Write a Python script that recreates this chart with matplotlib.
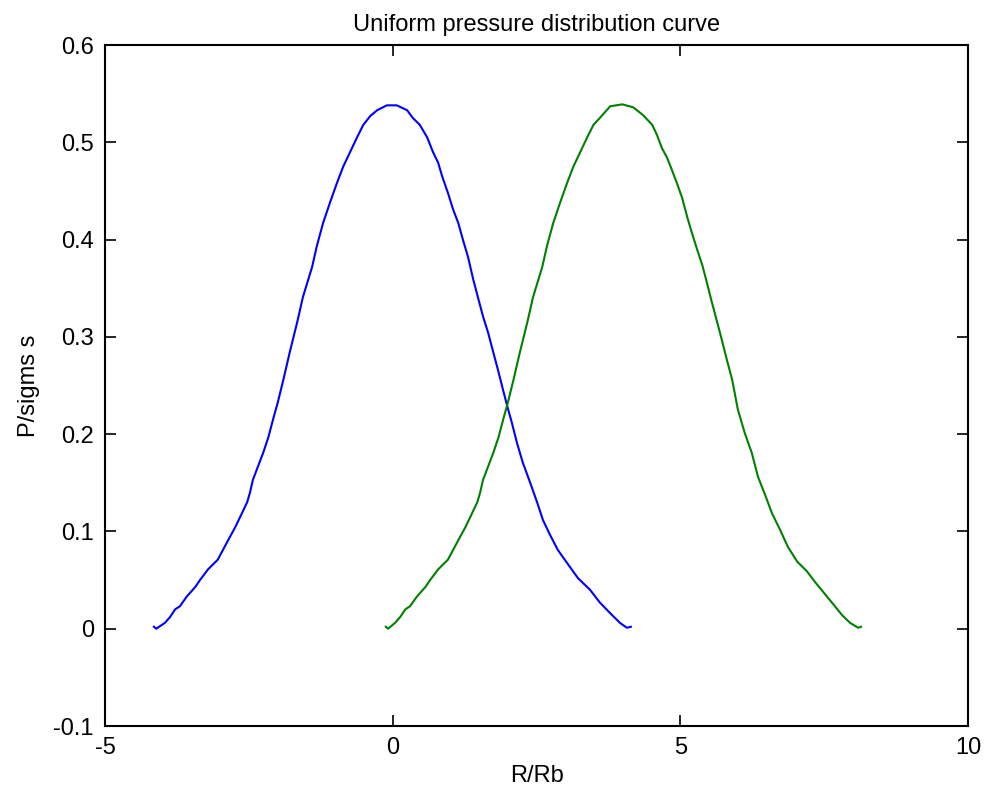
import matplotlib
matplotlib.use("Agg")
import matplotlib.pyplot as plt

plt.rcParams['font.family'] = ['Liberation Sans', 'DejaVu Sans']

# Pressure profile, first load centre (R/Rb, P/sigma_s)
r_blue = [-4.15, -4.11, -3.96, -3.87, -3.78, -3.70, -3.58, -3.43, -3.35, -3.21,
          -3.04, -2.95, -2.86, -2.74, -2.65, -2.53, -2.48, -2.43, -2.34, -2.25,
          -2.16, -2.08, -2.00, -1.90, -1.79, -1.66, -1.56, -1.40, -1.32, -1.21,
          -1.09, -0.97, -0.86, -0.74, -0.62, -0.51, -0.39, -0.27, -0.10, 0.07,
          0.25, 0.35, 0.47, 0.60, 0.70, 0.79, 0.86, 0.96, 1.05, 1.14,
          1.22, 1.31, 1.40, 1.48, 1.57, 1.66, 1.74, 1.83, 1.92, 1.99,
          2.07, 2.16, 2.26, 2.39, 2.51, 2.61, 2.73, 2.87, 3.05, 3.22,
          3.43, 3.60, 3.78, 3.95, 4.07, 4.14]
p_blue = [0.002, 0.000, 0.006, 0.012, 0.020, 0.023, 0.033, 0.043, 0.050, 0.061,
          0.071, 0.081, 0.091, 0.104, 0.115, 0.130, 0.140, 0.153, 0.167, 0.181,
          0.197, 0.215, 0.232, 0.256, 0.284, 0.315, 0.341, 0.372, 0.393, 0.417,
          0.438, 0.458, 0.475, 0.490, 0.505, 0.518, 0.527, 0.533, 0.538, 0.538,
          0.533, 0.525, 0.518, 0.505, 0.490, 0.479, 0.465, 0.448, 0.431, 0.417,
          0.400, 0.382, 0.359, 0.341, 0.321, 0.304, 0.286, 0.266, 0.245, 0.229,
          0.212, 0.191, 0.171, 0.150, 0.130, 0.112, 0.097, 0.081, 0.066, 0.052,
          0.040, 0.027, 0.016, 0.006, 0.001, 0.002]

# Pressure profile, second load centre
r_green = [-0.12, -0.08, 0.04, 0.13, 0.22, 0.30, 0.42, 0.57, 0.65, 0.79,
           0.96, 1.05, 1.14, 1.26, 1.35, 1.47, 1.52, 1.57, 1.66, 1.75,
           1.84, 1.92, 2.00, 2.10, 2.21, 2.34, 2.44, 2.60, 2.68, 2.79,
           2.91, 3.03, 3.14, 3.26, 3.38, 3.49, 3.60, 3.78, 3.99, 4.18,
           4.35, 4.51, 4.59, 4.68, 4.77, 4.85, 4.94, 5.03, 5.12, 5.20,
           5.29, 5.38, 5.46, 5.55, 5.64, 5.72, 5.81, 5.90, 6.00, 6.12,
           6.24, 6.35, 6.47, 6.59, 6.73, 6.87, 7.03, 7.20, 7.34, 7.48,
           7.66, 7.81, 7.95, 8.09, 8.14]
p_green = [0.002, 0.000, 0.006, 0.012, 0.020, 0.023, 0.033, 0.043, 0.050, 0.061,
           0.071, 0.081, 0.091, 0.104, 0.115, 0.130, 0.140, 0.153, 0.167, 0.181,
           0.197, 0.215, 0.232, 0.256, 0.284, 0.315, 0.341, 0.372, 0.393, 0.417,
           0.438, 0.458, 0.475, 0.490, 0.505, 0.518, 0.525, 0.537, 0.539, 0.536,
           0.528, 0.518, 0.508, 0.494, 0.484, 0.472, 0.458, 0.443, 0.423, 0.407,
           0.390, 0.374, 0.356, 0.335, 0.315, 0.297, 0.276, 0.256, 0.225, 0.201,
           0.181, 0.156, 0.138, 0.119, 0.102, 0.084, 0.069, 0.059, 0.048, 0.038,
           0.025, 0.014, 0.006, 0.001, 0.002]

x_ticks = [-5, 0, 5, 10]
y_ticks = [-0.1, 0, 0.1, 0.2, 0.3, 0.4, 0.5, 0.6]
y_tick_labels = ['-0.1', '0', '0.1', '0.2', '0.3', '0.4', '0.5', '0.6']

fig = plt.figure(figsize=(9.86, 7.98), dpi=100)
ax = fig.add_axes([0.1065, 0.0902, 0.8753, 0.8534])

ax.plot(r_blue, p_blue, color=(0, 0, 1), lw=1.5)
ax.plot(r_green, p_green, color=(0, 0.5, 0), lw=1.5)

ax.set_xlim(-5, 10)
ax.set_ylim(-0.1, 0.6)
ax.set_xticks(x_ticks)
ax.set_xticklabels([str(t) for t in x_ticks])
ax.set_yticks(y_ticks)
ax.set_yticklabels(y_tick_labels)
ax.tick_params(direction='in', length=8, width=1.2, top=True, right=True,
               labelsize=17, pad=8, colors='black')
for s in ax.spines.values():
    s.set_linewidth(1.5)

ax.set_title('Uniform pressure distribution curve', fontsize=17, pad=10)
ax.set_xlabel('R/Rb', fontsize=17, labelpad=4)
ax.set_ylabel('P/sigms s', fontsize=17, labelpad=10)

fig.savefig('out.png', dpi=100)
